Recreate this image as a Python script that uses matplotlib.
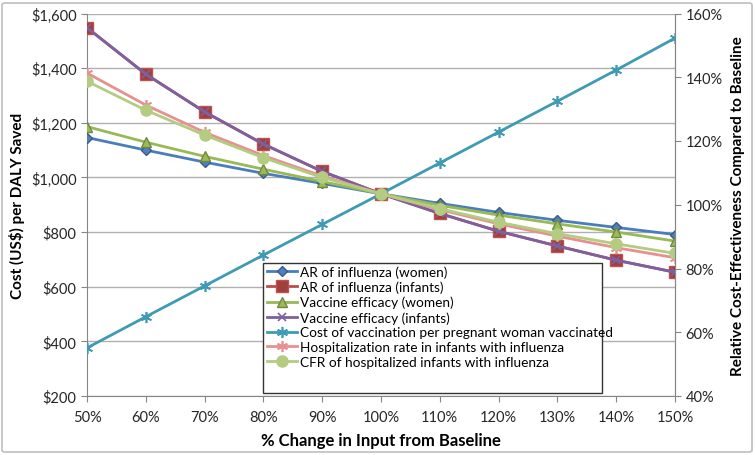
import matplotlib
matplotlib.use("Agg")
import matplotlib.pyplot as plt
from matplotlib.patches import Rectangle, FancyBboxPatch
from matplotlib.ticker import FuncFormatter

plt.rcParams['font.family'] = ['Lato', 'DejaVu Sans']

# % change in input from baseline
change = [50, 60, 70, 80, 90, 100, 110, 120, 130, 140, 150]

# cost (US$) per DALY saved for each input varied
ar_women = [1146, 1100, 1056, 1015, 978, 940, 905, 872, 843, 817, 791]
ar_infants = [1548, 1378, 1240, 1122, 1022, 940, 868, 803, 749, 697, 653]
ve_women = [1186, 1129, 1077, 1030, 985, 940, 898, 862, 830, 800, 767]
ve_infants = [1548, 1378, 1240, 1122, 1022, 940, 868, 803, 749, 697, 653]
vacc_cost = [376, 490, 603, 716, 828, 940, 1053, 1166, 1279, 1393, 1510]
hosp_rate = [1382, 1265, 1165, 1080, 1005, 940, 882, 830, 785, 743, 706]
cfr_hosp = [1352, 1246, 1155, 1072, 1000, 940, 886, 836, 794, 757, 722]

labels = ['AR of influenza (women)', 'AR of influenza (infants)',
          'Vaccine efficacy (women)', 'Vaccine efficacy (infants)',
          'Cost of vaccination per pregnant woman vaccinated',
          'Hospitalization rate in infants with influenza',
          'CFR of hospitalized infants with influenza']

fig = plt.figure(figsize=(7.55, 4.56), dpi=100)
ax = fig.add_axes([87/755, 1-397/456, 588/755, (397-14.5)/456])

# outer chart border
fig.patches.append(FancyBboxPatch((2/755, 3/456), 750/755, 449/456,
                                  boxstyle='round,pad=0,rounding_size=0.004',
                                  transform=fig.transFigure, fill=False,
                                  edgecolor='#bfbfbf', linewidth=1.2))

styles = [
    (ar_women, '#4A7EBB', dict(marker='D', ms=5, mfc='#4F81BD', mec='#385D8A')),
    (ar_infants, '#BE4B48', dict(marker='s', ms=8, mfc='#A0403D', mec='#C0504D')),
    (ve_women, '#98B954', dict(marker='^', ms=7, mfc='#9BBB59', mec='#71893F')),
    (ve_infants, '#7D60A0', dict(marker='x', ms=6, mew=1.2, mec='#7D60A0')),
    (vacc_cost, '#3E9BB3', dict(marker=(6, 2, 0), ms=8, mew=1.2, mec='#3E9BB3')),
    (hosp_rate, '#E6918F', dict(marker=(6, 2, 0), ms=8, mew=1.2, mec='#E6918F')),
    (cfr_hosp, '#B3CC82', dict(marker='o', ms=8, mfc='#B3CC82', mec='#B3CC82')),
]
handles = []
for (vals, col, mk), lab in zip(styles, labels):
    h, = ax.plot(change, vals, color=col, lw=2, label=lab, zorder=3, **mk)
    handles.append(h)

ax.set_xlim(50, 150)
ax.set_ylim(200, 1600)
ax.set_xticks(change)
ax.set_yticks(range(200, 1601, 200))
ax.xaxis.set_major_formatter(FuncFormatter(lambda v, p: '%d%%' % v))
ax.yaxis.set_major_formatter(FuncFormatter(lambda v, p: '${:,.0f}'.format(v)))
ax.grid(axis='y', color='#b0b0b0', lw=1)
ax.set_axisbelow(True)
ax.spines['top'].set_visible(False)
for s in ['left', 'bottom', 'right']:
    ax.spines[s].set_color('#868686')
ax.tick_params(colors='#868686', labelcolor='#262626', labelsize=10.5, length=4,
               direction='out')
ax.tick_params(axis='x', pad=6)

ax2 = ax.twinx()
ax2.set_ylim(40, 160)
ax2.set_yticks(range(40, 161, 20))
ax2.yaxis.set_major_formatter(FuncFormatter(lambda v, p: '%d%%' % v))
for s in ['top', 'left', 'bottom']:
    ax2.spines[s].set_visible(False)
ax2.spines['right'].set_color('#868686')
ax2.tick_params(colors='#868686', labelcolor='#262626', labelsize=10.5, length=4,
                direction='out')

ax.set_ylabel('Cost (US$) per DALY Saved', fontsize=11, fontweight='bold',
              labelpad=4)
ax2.set_ylabel('Relative Cost-Effectiveness Compared to Baseline', fontsize=11,
               fontweight='bold', labelpad=6)
ax.set_xlabel('% Change in Input from Baseline', fontsize=12, fontweight='bold',
              labelpad=6)

# legend box
ax2.add_patch(Rectangle((263/755, 1-394/456), 339/755, 130/456,
                        transform=fig.transFigure, facecolor='white',
                        edgecolor='#333333', lw=1, zorder=4))
leg = ax2.legend(handles=handles, loc='upper left', frameon=False,
                 bbox_to_anchor=(264/755, 1-263/456), bbox_transform=fig.transFigure,
                 fontsize=9.8, handlelength=2.2, handletextpad=0.2,
                 labelspacing=0.2, borderpad=0.25, borderaxespad=0)
leg.set_zorder(5)

fig.savefig('out.png', dpi=100)
